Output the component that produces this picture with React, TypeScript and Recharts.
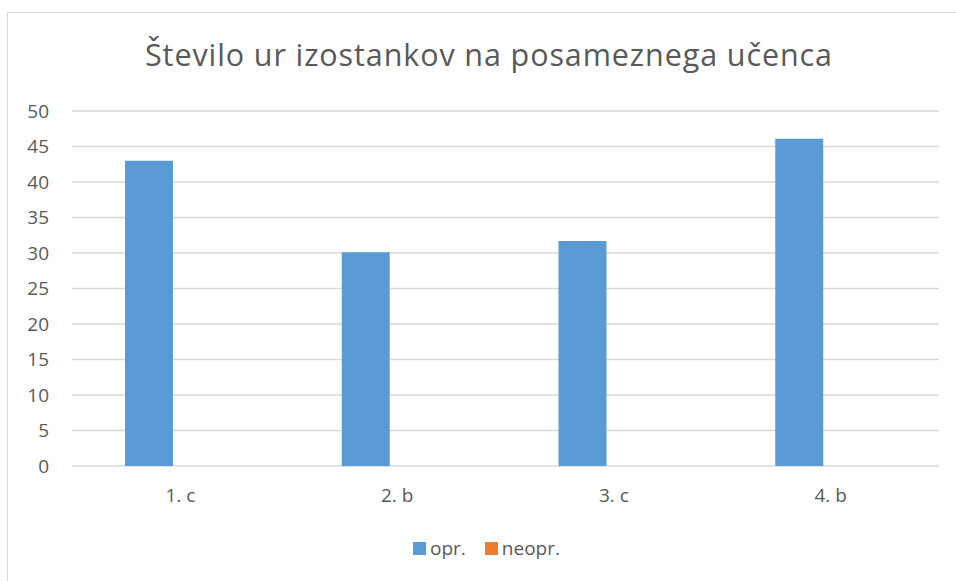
import * as React from 'react';
import { BarChart, Bar, XAxis, YAxis, CartesianGrid } from 'recharts';

const categories = ['1. c', '2. b', '3. c', '4. b'];
const oprValues = [43, 30.1, 31.7, 46.1];
const neoprValues = [0, 0, 0, 0];
const yTicks = [0, 5, 10, 15, 20, 25, 30, 35, 40, 45, 50];
const seriesNames = ['opr.', 'neopr.'];
const seriesColors = ['#5B9BD5', '#ED7D31'];

const data = categories.map((name, i) => ({
  name,
  opr: oprValues[i],
  neopr: neoprValues[i],
}));

const font = '"Open Sans", "Noto Sans", sans-serif';
const textColor = '#595959';

export default function App() {
  return (
    <div style={{ position: 'absolute', left: 0, top: 0, width: 956, height: 581, overflow: 'hidden', background: '#fff', fontFamily: font }}>
      <div style={{ position: 'absolute', left: 7, top: 12, width: 1000, height: 600, border: '1px solid #d9d9d9', boxSizing: 'border-box' }} />
      <svg style={{ position: 'absolute', left: 0, top: 0 }} width={956} height={100}>
        <text x={145} y={66} textLength={687} lengthAdjust="spacing" fontSize={30.5} fill={textColor} fontFamily={font}>
          Število ur izostankov na posameznega učenca
        </text>
      </svg>
      <div style={{ position: 'absolute', left: 0, top: 0 }}>
        <BarChart
          width={956}
          height={581}
          data={data}
          margin={{ top: 111, right: 17, left: 0, bottom: 75 }}
          barSize={48}
          barGap={14}
        >
          <CartesianGrid vertical={false} stroke="#d9d9d9" strokeWidth={1.3} />
          <XAxis
            dataKey="name"
            axisLine={false}
            tickLine={false}
            tickSize={0}
            tickMargin={23}
            height={40}
            tick={{ fill: textColor, fontSize: 19, fontFamily: font }}
          />
          <YAxis
            width={72}
            domain={[0, 50]}
            ticks={yTicks}
            axisLine={false}
            tickLine={false}
            tickSize={0}
            tickMargin={23}
            tick={{ fill: textColor, fontSize: 19, fontFamily: font }}
          />
          <Bar dataKey="opr" name={seriesNames[0]} fill={seriesColors[0]} isAnimationActive={false} />
          <Bar dataKey="neopr" name={seriesNames[1]} fill={seriesColors[1]} isAnimationActive={false} />
        </BarChart>
      </div>
      <div style={{ position: 'absolute', left: 413, top: 535, display: 'flex', alignItems: 'center', color: textColor, fontSize: 19, fontFamily: font }}>
        {seriesNames.map((n, i) => (
          <div key={n} style={{ display: 'flex', alignItems: 'center', marginRight: 19 }}>
            <span style={{ display: 'inline-block', width: 13, height: 13, background: seriesColors[i], marginRight: 4 }} />
            <span>{n}</span>
          </div>
        ))}
      </div>
    </div>
  );
}
